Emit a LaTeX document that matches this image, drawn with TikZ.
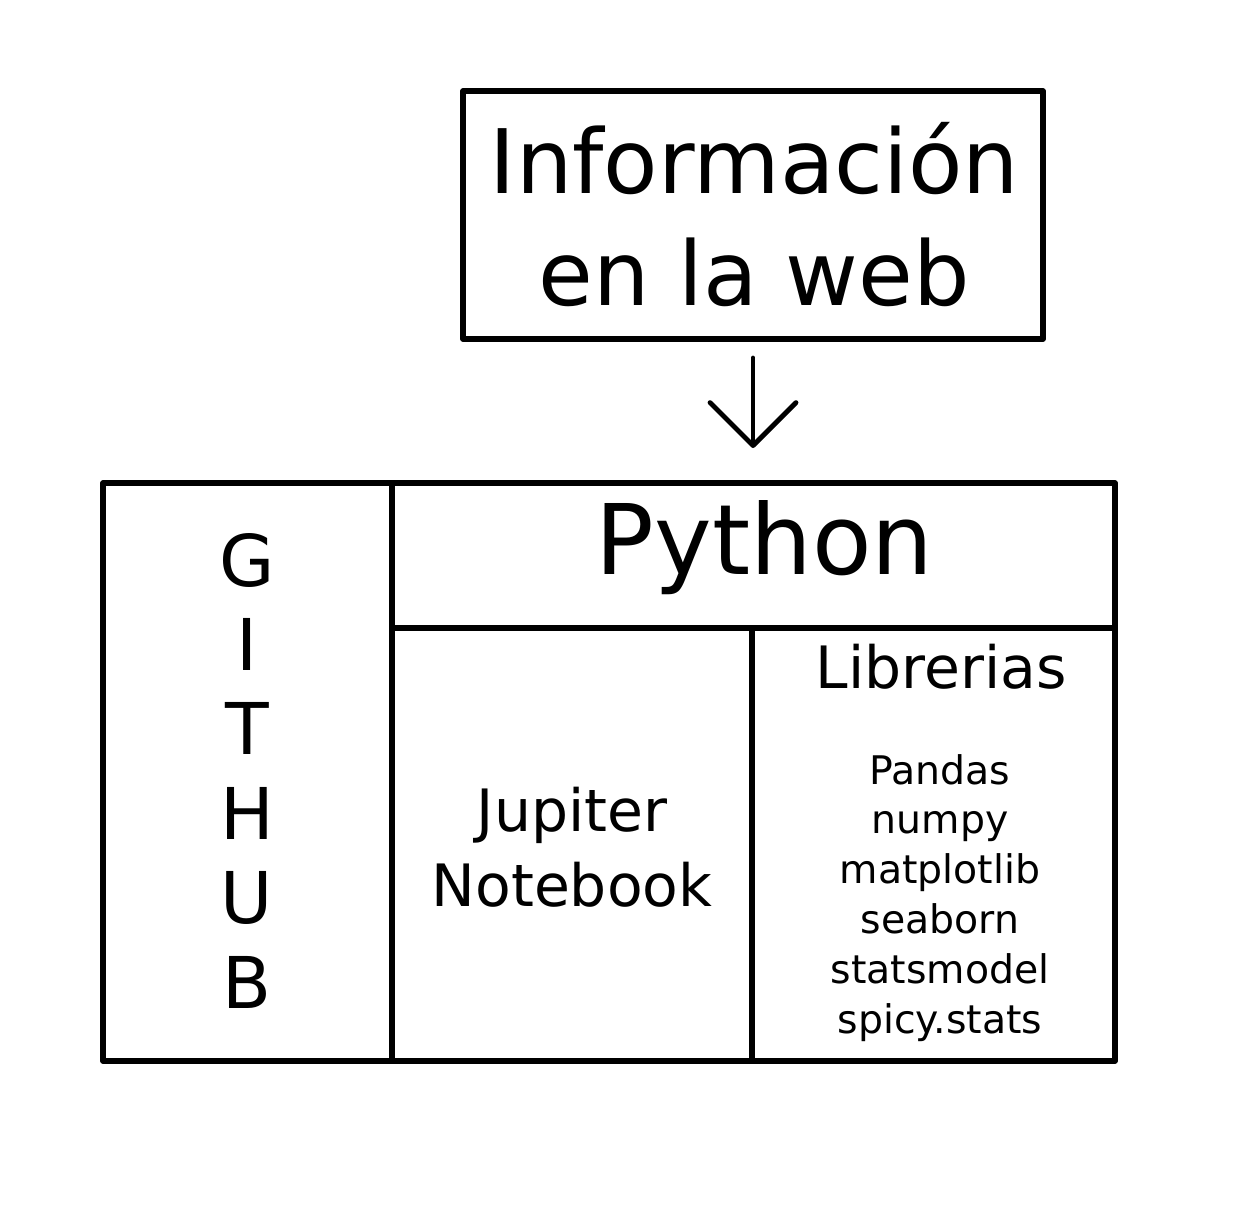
\documentclass[tikz,border=0pt]{standalone}
\usepackage{fontspec}
\setmainfont{DejaVu Sans}
\usetikzlibrary{arrows.meta}
\begin{document}
\begin{tikzpicture}[x=0.5pt,y=-0.5pt,
  cell/.style={draw, line width=2.7pt, line join=round, inner sep=0pt, outer sep=0pt},
  txt/.style={anchor=base, inner sep=0pt, outer sep=0pt},
  big/.style={font=\fontsize{44.5}{53}\selectfont},
  pyfont/.style={font=\fontsize{48.7}{58}\selectfont},
  gitfont/.style={font=\fontsize{35.7}{43}\selectfont},
  midfont/.style={font=\fontsize{29.2}{35}\selectfont},
  smallfont/.style={font=\fontsize{19.7}{24}\selectfont}]
\useasboundingbox (0,0) rectangle (1250,1211);
% top box
\node[cell, minimum width=290pt, minimum height=124pt] (info) at (753,215) {};
\node[txt, big] (infoA) at (754.5,193) {Información};
\node[txt, big] (infoB) at (754.5,305) {en la web};
% arrow
\coordinate (tip) at (753,448);
\draw[line width=2.4pt, line cap=round, shorten <=9.5pt,
  -{Straight Barb[length=21.5pt,width=43pt,round]}] (info.south) -- (tip);
% main cells
\node[cell, minimum width=144.5pt, minimum height=289pt] (git) at (247.5,772) {};
\node[cell, minimum width=361.5pt, minimum height=72.5pt] (py) at (753.5,555.5) {};
\node[cell, minimum width=180pt, minimum height=216.5pt] (jup) at (572,844.5) {};
\node[cell, minimum width=181.5pt, minimum height=216.5pt] (lib) at (933.5,844.5) {};
% texts
\node[txt, pyfont] (pyT) at (764.5,574) {Python};
\foreach \c [count=\i from 0] in {G,I,T,H,U,B}
  \node[txt, gitfont] (g\i) at (247,586+84.4*\i) {\c};
\node[txt, midfont] (jupA) at (572,831) {Jupiter};
\node[txt, midfont] (jupB) at (572,906) {Notebook};
\node[txt, midfont] (libT) at (941,688) {Librerias};
\foreach \t [count=\i from 0] in {Pandas,numpy,matplotlib,seaborn,statsmodel,spicy.stats}
  \node[txt, smallfont] (l\i) at (940,784+49.8*\i) {\t};
\end{tikzpicture}
\end{document}
